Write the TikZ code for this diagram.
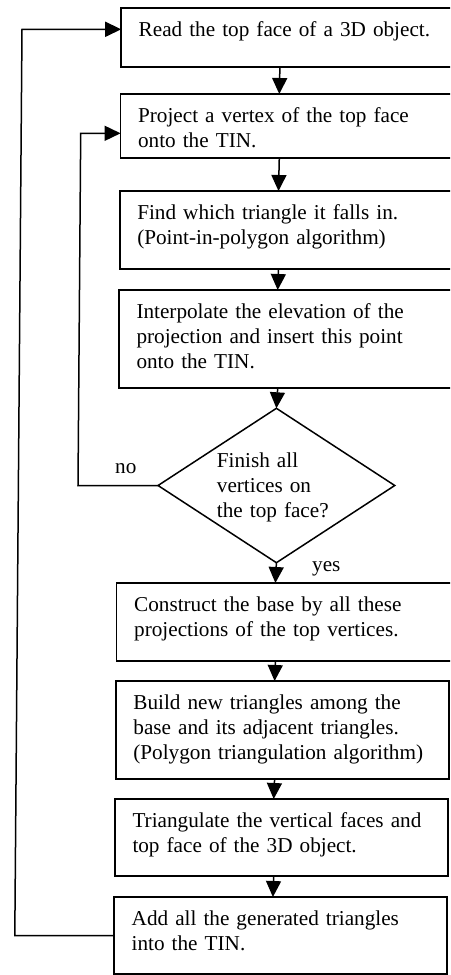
\documentclass[tikz,border=0pt]{standalone}
\usepackage{fontspec}
\setmainfont{Liberation Serif}
\usetikzlibrary{arrows.meta,shapes.geometric}

\begin{document}
\begin{tikzpicture}[x=1pt,y=-1pt,
  txt/.style={font=\fontsize{21.2}{25}\selectfont},
  wire/.style={line width=1.5pt},
  flow/.style={wire,-{Triangle[length=16pt,width=15pt]}},
  stepbox/.style={txt,draw,wire,anchor=north west,align=left,
    text width=315pt,inner xsep=17.5pt,
    inner ysep=0pt,outer sep=0pt,text height=28pt},
  narrowbox/.style={stepbox,text width=298pt},
  decision/.style={txt,draw,wire,diamond,aspect=1.533,
    minimum width=236.7pt,minimum height=154.4pt,inner sep=0pt,outer sep=0pt,
    align=left,text width=119pt,text height=15pt,text depth=52pt},
  tag/.style={txt,anchor=base west,inner sep=0pt}]

\useasboundingbox (0,0) rectangle (450,975);
\clip (0,0) rectangle (450,975);

% process steps; the column drifts a little to the left going down
\node[stepbox,text depth=31pt] (b1) at (121.2,8)
  {Read the top face of a 3D object.};
\node[stepbox,text depth=36pt] (b2) at (120.6,94)
  {Project a vertex of the top face\\onto the TIN.};
\node[stepbox,text depth=50pt] (b3) at (119.8,191)
  {Find which triangle it falls in.\\(Point-in-polygon algorithm)};
\node[stepbox,text depth=70pt] (b4) at (119.0,290)
  {Interpolate the elevation of the\\projection and insert this point\\onto the TIN.};
\node[decision] (dia) at (276.4,485.5)
  {Finish all\\vertices on\\the top face?};
\node[stepbox,text depth=50pt] (b5) at (116.7,583)
  {Construct the base by all these\\projections of the top vertices.};
\node[narrowbox,text depth=70pt] (b6) at (115.9,681)
  {Build new triangles among the\\base and its adjacent triangles.\\(Polygon triangulation algorithm)};
\node[narrowbox,text depth=49pt] (b7) at (115.0,799)
  {Triangulate the vertical faces and\\top face of the 3D object.};
\node[narrowbox,text depth=49pt] (b8) at (114.2,897)
  {Add all the generated triangles\\into the TIN.};

\node[tag] (no) at (115,473.5) {no};
\node[tag] (yes) at (312,571.7) {yes};

% main sequence
\draw[flow] ([xshift=158.7pt]b1.south west) -- ([xshift=158.7pt]b2.north west);
\draw[flow] ([xshift=158.7pt]b2.south west) -- ([xshift=158.7pt]b3.north west);
\draw[flow] ([xshift=158.7pt]b3.south west) -- ([xshift=158.7pt]b4.north west);
\draw[flow] ([xshift=158.7pt]b4.south west) -- (dia.north);
\draw[flow] (dia.south) -- ([xshift=158.7pt]b5.north west);
\draw[flow] ([xshift=158.7pt]b5.south west) -- ([xshift=158.7pt]b6.north west);
\draw[flow] ([xshift=158.7pt]b6.south west) -- ([xshift=158.7pt]b7.north west);
\draw[flow] ([xshift=158.7pt]b7.south west) -- ([xshift=158.7pt]b8.north west);

% inner loop: next vertex
\coordinate (il1) at (78,485.5);
\coordinate (il2) at (80.7,133.3);
\draw[flow] (dia.west) -- (il1) -- (il2) -- (b2.west |- il2);

% outer loop: next object
\coordinate (ol1) at (14.8,935.5);
\coordinate (ol2) at (22,29.3);
\draw[flow] (b8.west) -- (ol1) -- (ol2) -- (b1.west |- ol2);
\end{tikzpicture}
\end{document}
